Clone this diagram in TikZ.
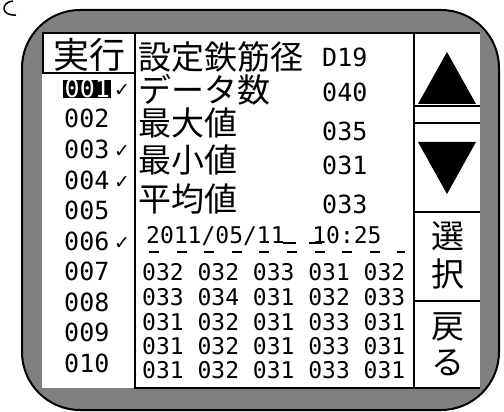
\documentclass[tikz,border=0pt]{standalone}
\usepackage{fontspec}
\newfontfamily\cjkf{Noto Sans CJK JP}
\newfontfamily\monof{DejaVu Sans Mono}
\newfontfamily\symf{DejaVu Sans}
\definecolor{framegray}{RGB}{128,128,128}
\begin{document}
\begin{tikzpicture}[x=1pt,y=-1pt,
  frame/.style={draw=black,line width=2pt},
  rule/.style={line width=2pt},
  cj/.style={inner sep=0pt,font=\cjkf\fontsize{33}{33}\selectfont},
  num/.style={inner sep=0pt,anchor=base west,font=\monof\fontsize{25}{25}\selectfont},
  dat/.style={inner sep=0pt,anchor=base west,font=\monof\fontsize{23}{23}\selectfont},
  chk/.style={inner sep=0pt,font=\symf\fontsize{19}{19}\selectfont}]
\useasboundingbox (0,0) rectangle (504,412);
% corner mark
\draw[line width=1.5pt] (13,1) .. controls (1,2) and (0,16) .. (16,15);
% outer frame
\draw[frame,fill=framegray,rounded corners=58pt] (22,10) rectangle (499,410);
% screen
\fill[white] (42,33) rectangle (480,388);
\draw[rule] (42,33) -- (480,33);
\draw[rule] (43,33) rectangle (135,73);
\draw[rule] (135,33) -- (135,389);
\draw[rule] (414,33) -- (414,389);
\draw[rule] (135,388) -- (480,388);
\draw[rule] (414,106) -- (480,106);
\draw[rule] (414,123) -- (480,123);
\draw[rule] (414,212) -- (480,212);
\draw[rule] (414,301) -- (480,301);
% arrows
\fill (447,52) -- (476,104) -- (418,104) -- cycle;
\fill (418,142) -- (476,142) -- (447,194) -- cycle;
% header
\node[inner sep=0pt,font=\cjkf\fontsize{36}{36}\selectfont] (hdr) at (89,55) {実行};
% list
\node[num,fill=black,text=white,text height=17pt,text depth=1pt,inner xsep=1.5pt] (n1) at (63,97.5) {001};
\node[num] (n2) at (64,128) {002};
\node[num] (n3) at (64,158.5) {003};
\node[num] (n4) at (64,189) {004};
\node[num] (n5) at (64,219.5) {005};
\node[num] (n6) at (64,250) {006};
\node[num] (n7) at (64,280.5) {007};
\node[num] (n8) at (64,311) {008};
\node[num] (n9) at (64,341.5) {009};
\node[num] (n10) at (64,372) {010};
\node[chk] (c1) at (122,91) {✓};
\node[chk] (c3) at (122,152) {✓};
\node[chk] (c4) at (122,182.5) {✓};
\node[chk] (c6) at (122,243.5) {✓};
% labels
\node[cj,anchor=west] (l1) at (138,57) {設定鉄筋径};
\node[cj,anchor=west] (l2) at (138,90) {データ数};
\node[cj,anchor=west] (l3) at (138,123) {最大値};
\node[cj,anchor=west] (l4) at (138,160) {最小値};
\node[cj,anchor=west] (l5) at (138,199) {平均値};
\node[num] (v1) at (322,67) {D19};
\node[num] (v2) at (322,102) {040};
\node[num] (v3) at (322,140) {035};
\node[num] (v4) at (322,175) {031};
\node[num] (v5) at (322,213) {033};
% date
\node[dat] (date) at (146,243) {2011/05/11\ \ 10:25};
\draw[line width=1.5pt] (283,243) -- (296,243) (309,243) -- (322,243);
\draw[line width=1.5pt,dash pattern=on 10pt off 17.6pt] (149,252) -- (405,252);
% data
\node[dat] (d1) at (142,280) {032 032 033 031 032};
\node[dat] (d2) at (142,305) {033 034 031 032 033};
\node[dat] (d3) at (142,330) {031 032 031 033 031};
\node[dat] (d4) at (142,354) {031 032 031 033 031};
\node[dat] (d5) at (142,378) {031 032 031 033 031};
% buttons
\node[cj] (b1) at (448,236) {選};
\node[cj] (b2) at (448,274) {択};
\node[cj] (b3) at (448,327) {戻};
\node[cj] (b4) at (448,363) {る};
\end{tikzpicture}
\end{document}
